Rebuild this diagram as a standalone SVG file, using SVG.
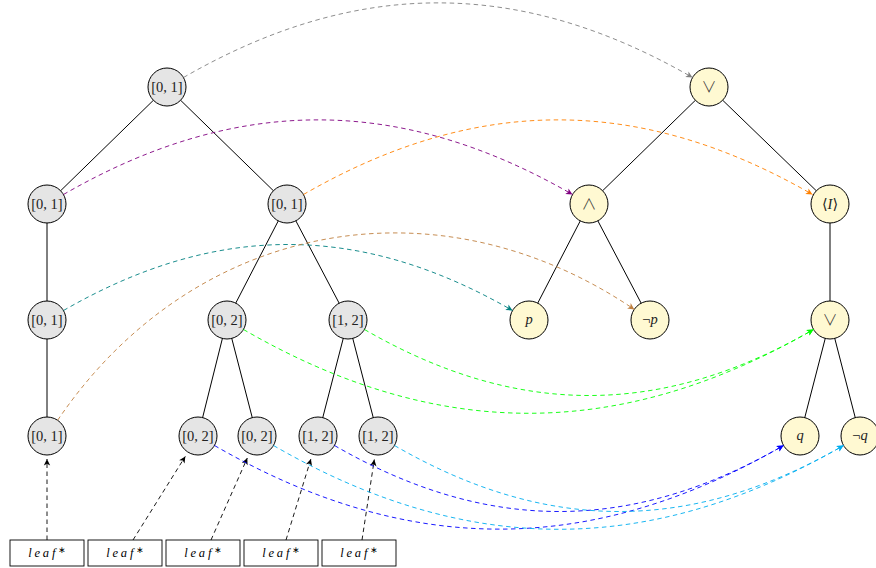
<svg xmlns="http://www.w3.org/2000/svg" width="876" height="568" viewBox="0 0 876 568">
<style>
.edge{stroke:#000;stroke-width:1;fill:none}
.ln{fill:#e5e5e5;stroke:#000;stroke-width:1}
.rn{fill:#fff9d2;stroke:#000;stroke-width:1}
.t{font-family:"Liberation Serif","DejaVu Serif","DejaVu Sans",serif;font-size:14.5px;text-anchor:middle;fill:#222}
.sym{font-family:"Noto Sans CJK JP","DejaVu Sans",sans-serif;font-weight:300;font-size:15px;text-anchor:middle;fill:#333}
.it{font-style:italic}
.leaf{fill:#fff;stroke:#000;stroke-width:0.9}
.lt{font-family:"Liberation Serif","DejaVu Serif",serif;font-size:12.5px;font-style:italic;text-anchor:middle;letter-spacing:2.8px;fill:#000}
.ast{font-family:"DejaVu Sans",sans-serif;font-style:normal;font-size:9px;letter-spacing:0}
.c{fill:none;stroke-width:0.9;stroke-dasharray:4.5 3.5}
</style>
<defs>
<marker id="mk" viewBox="-7 -4 8 8" refX="0" refY="0" markerWidth="8" markerHeight="8" markerUnits="userSpaceOnUse" orient="auto"><path d="M0,0 L-6.5,-3.2 L-4.8,0 L-6.5,3.2 Z" fill="#000"/></marker>
<marker id="mgray" viewBox="-7 -4 8 8" refX="0" refY="0" markerWidth="8" markerHeight="8" markerUnits="userSpaceOnUse" orient="auto"><path d="M0,0 L-6.5,-3.2 L-4.8,0 L-6.5,3.2 Z" fill="#808080"/></marker>
<marker id="mpurple" viewBox="-7 -4 8 8" refX="0" refY="0" markerWidth="8" markerHeight="8" markerUnits="userSpaceOnUse" orient="auto"><path d="M0,0 L-6.5,-3.2 L-4.8,0 L-6.5,3.2 Z" fill="#800080"/></marker>
<marker id="morange" viewBox="-7 -4 8 8" refX="0" refY="0" markerWidth="8" markerHeight="8" markerUnits="userSpaceOnUse" orient="auto"><path d="M0,0 L-6.5,-3.2 L-4.8,0 L-6.5,3.2 Z" fill="#ff8000"/></marker>
<marker id="mteal" viewBox="-7 -4 8 8" refX="0" refY="0" markerWidth="8" markerHeight="8" markerUnits="userSpaceOnUse" orient="auto"><path d="M0,0 L-6.5,-3.2 L-4.8,0 L-6.5,3.2 Z" fill="#008080"/></marker>
<marker id="mbrown" viewBox="-7 -4 8 8" refX="0" refY="0" markerWidth="8" markerHeight="8" markerUnits="userSpaceOnUse" orient="auto"><path d="M0,0 L-6.5,-3.2 L-4.8,0 L-6.5,3.2 Z" fill="#bf8040"/></marker>
<marker id="mgreen" viewBox="-7 -4 8 8" refX="0" refY="0" markerWidth="8" markerHeight="8" markerUnits="userSpaceOnUse" orient="auto"><path d="M0,0 L-6.5,-3.2 L-4.8,0 L-6.5,3.2 Z" fill="#00ff00"/></marker>
<marker id="mblue" viewBox="-7 -4 8 8" refX="0" refY="0" markerWidth="8" markerHeight="8" markerUnits="userSpaceOnUse" orient="auto"><path d="M0,0 L-6.5,-3.2 L-4.8,0 L-6.5,3.2 Z" fill="#0000ff"/></marker>
<marker id="mcyan" viewBox="-7 -4 8 8" refX="0" refY="0" markerWidth="8" markerHeight="8" markerUnits="userSpaceOnUse" orient="auto"><path d="M0,0 L-6.5,-3.2 L-4.8,0 L-6.5,3.2 Z" fill="#00aeef"/></marker>
</defs>

<g id="tree-edges" class="edge">
<line x1="167" y1="87" x2="47" y2="204"/>
<line x1="167" y1="87" x2="287" y2="204"/>
<line x1="47" y1="204" x2="47" y2="320"/>
<line x1="47" y1="320" x2="47" y2="436"/>
<line x1="287" y1="204" x2="227" y2="320"/>
<line x1="287" y1="204" x2="348" y2="320"/>
<line x1="227" y1="320" x2="198" y2="436"/>
<line x1="227" y1="320" x2="257" y2="436"/>
<line x1="348" y1="320" x2="318" y2="436"/>
<line x1="348" y1="320" x2="378" y2="436"/>
<line x1="709" y1="87" x2="589" y2="204"/>
<line x1="709" y1="87" x2="830" y2="204"/>
<line x1="589" y1="204" x2="529" y2="320"/>
<line x1="589" y1="204" x2="650" y2="320"/>
<line x1="830" y1="204" x2="830" y2="320"/>
<line x1="830" y1="320" x2="800" y2="436"/>
<line x1="830" y1="320" x2="860" y2="436"/>
</g>

<g id="nA"><circle class="ln" cx="167" cy="87" r="19"/><text class="t" x="167" y="92">[0, 1]</text></g>
<g id="nB"><circle class="ln" cx="47" cy="204" r="19"/><text class="t" x="47" y="209">[0, 1]</text></g>
<g id="nC"><circle class="ln" cx="287" cy="204" r="19"/><text class="t" x="287" y="209">[0, 1]</text></g>
<g id="nD"><circle class="ln" cx="47" cy="320" r="19"/><text class="t" x="47" y="325">[0, 1]</text></g>
<g id="nE"><circle class="ln" cx="227" cy="320" r="19"/><text class="t" x="227" y="325">[0, 2]</text></g>
<g id="nF"><circle class="ln" cx="348" cy="320" r="19"/><text class="t" x="348" y="325">[1, 2]</text></g>
<g id="nG"><circle class="ln" cx="47" cy="436" r="19"/><text class="t" x="47" y="441">[0, 1]</text></g>
<g id="nH"><circle class="ln" cx="198" cy="436" r="19"/><text class="t" x="198" y="441">[0, 2]</text></g>
<g id="nI"><circle class="ln" cx="257" cy="436" r="19"/><text class="t" x="257" y="441">[0, 2]</text></g>
<g id="nJ"><circle class="ln" cx="318" cy="436" r="19"/><text class="t" x="318" y="441">[1, 2]</text></g>
<g id="nK"><circle class="ln" cx="378" cy="436" r="19"/><text class="t" x="378" y="441">[1, 2]</text></g>

<g id="nR"><circle class="rn" cx="709" cy="87" r="19"/><text class="sym" x="709" y="92">∨</text></g>
<g id="nS"><circle class="rn" cx="589" cy="204" r="19"/><text class="sym" x="589" y="209">∧</text></g>
<g id="nT"><circle class="rn" cx="830" cy="204" r="19"/><text class="t" x="830" y="209">⟨<tspan class="it">I</tspan>⟩</text></g>
<g id="nU"><circle class="rn" cx="529" cy="320" r="19"/><text class="t it" x="529" y="324">p</text></g>
<g id="nV"><circle class="rn" cx="650" cy="320" r="19"/><text class="t" x="650" y="324">¬<tspan class="it">p</tspan></text></g>
<g id="nW"><circle class="rn" cx="830" cy="320" r="19"/><text class="sym" x="830" y="325">∨</text></g>
<g id="nX"><circle class="rn" cx="800" cy="436" r="19"/><text class="t it" x="800" y="440">q</text></g>
<g id="nY"><circle class="rn" cx="860" cy="436" r="19"/><text class="t" x="860" y="440">¬<tspan class="it">q</tspan></text></g>

<g id="leaf1"><rect class="leaf" x="10" y="540" width="74" height="26"/><text class="lt" x="47" y="557">leaf<tspan class="ast" dy="-4">∗</tspan></text></g>
<g id="leaf2"><rect class="leaf" x="88" y="540" width="74" height="26"/><text class="lt" x="125" y="557">leaf<tspan class="ast" dy="-4">∗</tspan></text></g>
<g id="leaf3"><rect class="leaf" x="166" y="540" width="74" height="26"/><text class="lt" x="203" y="557">leaf<tspan class="ast" dy="-4">∗</tspan></text></g>
<g id="leaf4"><rect class="leaf" x="244" y="540" width="74" height="26"/><text class="lt" x="281" y="557">leaf<tspan class="ast" dy="-4">∗</tspan></text></g>
<g id="leaf5"><rect class="leaf" x="322" y="540" width="74" height="26"/><text class="lt" x="359" y="557">leaf<tspan class="ast" dy="-4">∗</tspan></text></g>

<g id="connectors">
<path class="c" stroke="#000" d="M47,540 L47,459" marker-end="url(#mk)"/>
<path class="c" stroke="#000" d="M133,540 L185.3,456.4" marker-end="url(#mk)"/>
<path class="c" stroke="#000" d="M211,540 L247.3,458" marker-end="url(#mk)"/>
<path class="c" stroke="#000" d="M286,540 L310.9,459" marker-end="url(#mk)"/>
<path class="c" stroke="#000" d="M362,540 L374.3,459.5" marker-end="url(#mk)"/>
<path class="c" stroke="#808080" d="M183.5,77.5 C356,-22 520,-22 692.5,77.5" marker-end="url(#mgray)"/>
<path class="c" stroke="#800080" d="M63.5,194.5 C236,95 400,95 572.5,194.5" marker-end="url(#mpurple)"/>
<path class="c" stroke="#ff8000" d="M303.5,194.5 C476,95 640,95 812.5,194.5" marker-end="url(#morange)"/>
<path class="c" stroke="#008080" d="M63.5,310.5 C216,222.5 360,222.5 512.5,310.5" marker-end="url(#mteal)"/>
<path class="c" stroke="#bf8040" d="M57.6,420.3 C192.2,221.6 435.6,174.8 634.3,309.4" marker-end="url(#mbrown)"/>
<path class="c" stroke="#00ff00" d="M243.5,329.5 C436.7,441.2 620.3,441.2 813.5,329.5" marker-end="url(#mgreen)"/>
<path class="c" stroke="#00ff00" d="M364.5,329.5 C516.7,417.5 661.3,417.5 813.5,329.5" marker-end="url(#mgreen)"/>
<path class="c" stroke="#0000ff" d="M214.5,445.5 C407.4,557 590.6,557 783.5,445.5" marker-end="url(#mblue)"/>
<path class="c" stroke="#0000ff" d="M334.5,445.5 C486.7,533.5 631.3,533.5 783.5,445.5" marker-end="url(#mblue)"/>
<path class="c" stroke="#00aeef" d="M273.5,445.5 C466.7,557.2 650.3,557.2 843.5,445.5" marker-end="url(#mcyan)"/>
<path class="c" stroke="#00aeef" d="M394.5,445.5 C546.7,533.5 691.3,533.5 843.5,445.5" marker-end="url(#mcyan)"/>
</g>
</svg>
